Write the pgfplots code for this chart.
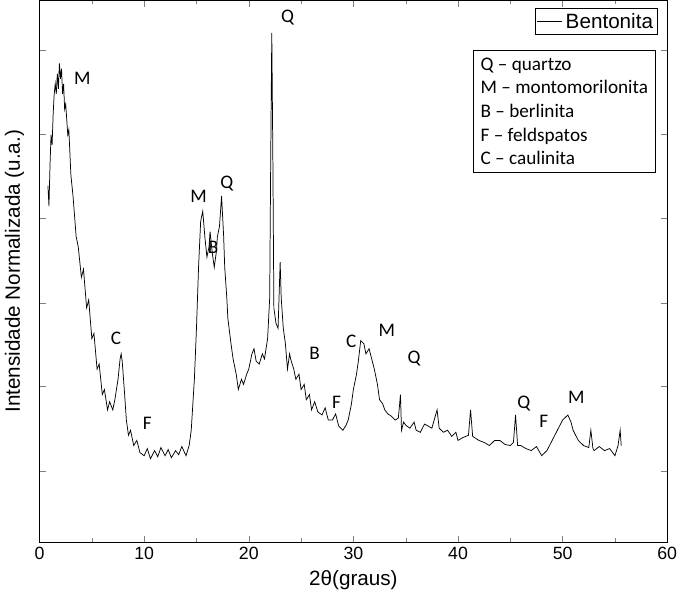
\documentclass[border=0pt]{standalone}
\usepackage{pgfplots}
\pgfplotsset{compat=1.18}
\usepackage{fontspec}
\setmainfont{Liberation Sans}
\newfontfamily\calfont{Carlito}
\begin{document}
\begin{tikzpicture}
\begin{axis}[width=470pt,height=412pt,
 xmin=0,xmax=60,ymin=0,ymax=532,
 xtick={0,10,...,60},ytick={70,153,235,318,401,483},yticklabels={},
 tick align=inside,minor x tick num=1,
 xlabel={2θ(graus)},ylabel={Intensidade Normalizada (u.a.)},
 label style={font=\fontsize{14}{16}\selectfont},
 tick label style={font=\fontsize{12}{14}\selectfont},
 /pgf/number format/assume math mode=true,
 legend style={at={(0.985,0.985)},anchor=north east,font=\fontsize{14}{16}\selectfont,draw=black,inner sep=1pt},
 legend cell align=left]
\addplot[black,line width=0.5pt] coordinates {
(0.8,350)(0.9,330)(1.0,370)(1.1,400)(1.2,390)(1.3,420)(1.4,440)(1.5,450)(1.6,440)(1.7,460)(1.8,445)(1.9,470)(2.0,455)(2.1,465)(2.2,440)(2.3,450)(2.4,425)(2.5,430)(2.7,400)(2.8,405)(3.0,360)(3.2,340)(3.5,300)(3.7,290)(4.0,260)(4.2,268)(4.5,230)(4.7,238)(5.0,200)(5.2,205)(5.5,170)(5.7,175)(6.0,145)(6.2,150)(6.5,130)(6.7,138)(7.0,130)(7.2,140)(7.5,160)(7.7,180)(7.8,185)(7.9,178)(8.1,150)(8.3,120)(8.5,105)(8.7,110)(9.0,95)(9.3,100)(9.6,88)(10,85)(10.3,92)(10.6,82)(11,90)(11.3,84)(11.6,93)(12,85)(12.3,91)(12.6,83)(13,90)(13.3,86)(13.6,94)(14,85)(14.3,95)(14.5,110)(14.8,160)(15.0,210)(15.2,270)(15.4,315)(15.6,325)(15.8,300)(16.0,280)(16.2,290)(16.3,305)(16.5,285)(16.7,270)(16.9,285)(17.0,300)(17.2,310)(17.4,340)(17.6,300)(17.7,270)(17.9,240)(18,220)(18.3,195)(18.5,180)(18.8,165)(19,150)(19.3,160)(19.5,155)(19.8,165)(20,170)(20.3,185)(20.5,190)(20.7,178)(21,175)(21.3,185)(21.5,180)(21.8,200)(22,240)(22.1,380)(22.2,500)(22.3,380)(22.4,230)(22.6,215)(22.8,210)(23,275)(23.1,240)(23.3,210)(23.5,195)(23.7,170)(23.9,185)(24,180)(24.3,170)(24.5,160)(24.8,165)(25,150)(25.3,155)(25.5,140)(25.8,145)(26,130)(26.3,138)(26.6,128)(27,125)(27.3,132)(27.6,120)(28,120)(28.3,126)(28.6,114)(29,110)(29.3,115)(29.5,120)(29.8,135)(30,150)(30.3,165)(30.5,180)(30.7,198)(31,195)(31.2,185)(31.5,190)(31.7,182)(32,170)(32.3,155)(32.5,140)(32.8,136)(33,130)(33.3,126)(33.6,124)(34,120)(34.3,122)(34.5,145)(34.6,110)(34.8,118)(35,115)(35.4,112)(35.8,118)(36,110)(36.4,108)(36.8,116)(37,115)(37.5,112)(38,130)(38.2,112)(38.6,108)(39,110)(39.4,104)(39.8,108)(40,100)(40.5,103)(41,105)(41.2,130)(41.4,104)(42,100)(42.5,98)(43,95)(43.5,100)(44,100)(44.5,96)(45,95)(45.3,98)(45.5,125)(45.7,95)(46,95)(46.5,92)(47,90)(47.5,94)(48,85)(48.5,90)(49,100)(49.5,110)(50,120)(50.5,125)(50.8,118)(51,110)(51.5,100)(52,95)(52.5,93)(52.7,110)(52.9,92)(53,90)(53.5,94)(54,90)(54.5,92)(55,85)(55.3,95)(55.5,110)(55.6,95)
};
\addlegendentry{Bentonita}
\node[font=\calfont\fontsize{13}{15}\selectfont,anchor=west] at (axis cs:2.8,455) {M};
\node[font=\calfont\fontsize{13}{15}\selectfont] at (axis cs:15.2,340) {M};
\node[font=\calfont\fontsize{13}{15}\selectfont] at (axis cs:16.6,290) {B};
\node[font=\calfont\fontsize{13}{15}\selectfont] at (axis cs:17.9,352) {Q};
\node[font=\calfont\fontsize{13}{15}\selectfont] at (axis cs:23.7,515) {Q};
\node[font=\calfont\fontsize{13}{15}\selectfont] at (axis cs:7.3,200) {C};
\node[font=\calfont\fontsize{13}{15}\selectfont] at (axis cs:10.3,117) {F};
\node[font=\calfont\fontsize{13}{15}\selectfont] at (axis cs:26.3,185) {B};
\node[font=\calfont\fontsize{13}{15}\selectfont] at (axis cs:28.4,137) {F};
\node[font=\calfont\fontsize{13}{15}\selectfont] at (axis cs:29.8,197) {C};
\node[font=\calfont\fontsize{13}{15}\selectfont] at (axis cs:33.2,208) {M};
\node[font=\calfont\fontsize{13}{15}\selectfont] at (axis cs:35.8,180) {Q};
\node[font=\calfont\fontsize{13}{15}\selectfont] at (axis cs:46.3,136) {Q};
\node[font=\calfont\fontsize{13}{15}\selectfont] at (axis cs:48.2,119) {F};
\node[font=\calfont\fontsize{13}{15}\selectfont] at (axis cs:51.3,142) {M};
\node[draw,fill=white,anchor=north east,align=left,inner sep=5pt,font=\calfont\fontsize{13}{16}\selectfont] at (axis cs:58.9,483) {Q – quartzo\\M – montomorilonita\\B – berlinita\\F – feldspatos\\C – caulinita};
\end{axis}
\end{tikzpicture}
\end{document}
